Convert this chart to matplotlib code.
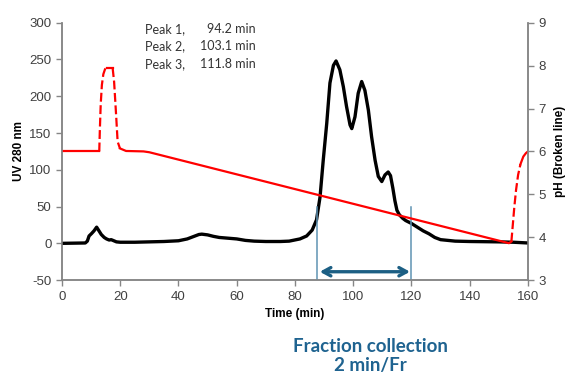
import matplotlib.pyplot as plt

plt.rcParams['font.family'] = ['Liberation Sans', 'DejaVu Sans']
plt.rcParams['axes.unicode_minus'] = False

# UV 280 nm trace (black)
uv_time = [0, 8, 8.7, 9.3, 10.2, 11, 11.9, 12.7, 13.5, 14.5, 15.3, 16.2, 16.9, 17.8, 18.7,
           20, 25, 30, 35, 40, 43, 45, 47, 48, 50, 52, 54, 57, 60, 63, 66, 70, 75, 78, 81.7,
           84, 85.9, 87.4, 88.6, 89.7, 90.9, 92, 93.2, 94.1, 95.4, 96.6, 97.7, 98.9, 99.5,
           100.6, 101.7, 102.9, 104, 105.2, 106.3, 107.5, 108.6, 109.8, 110.9, 112, 112.8,
           113.6, 114.3, 115, 115.8, 117, 118, 120, 122, 124, 126, 128, 130, 135, 140, 150,
           155, 160]
uv_value = [0, 0.5, 3, 10, 13.5, 17, 22, 17, 12, 8, 6, 4.5, 5, 3.5, 2,
            1.5, 1.5, 2, 2.5, 3.5, 6, 9, 12, 12.5, 11.5, 9.5, 8, 7, 6, 4, 3, 2.5, 2.5, 3, 6,
            10, 18, 32, 63, 113, 163, 218, 242, 248, 236, 213, 186, 161, 156,
            172, 204, 220, 208, 181, 145, 113, 91, 84, 93, 97, 92,
            75, 58, 45, 39, 34, 31, 27, 22, 17, 13, 8, 5, 3, 2.5, 2,
            1.5, 0.5]

# pH trace (red), steep parts drawn broken
ph_time = [0, 12.8, 13.0, 13.3, 13.7, 14.2, 14.8, 15.3, 17.4, 17.9, 18.6, 19.1, 19.9,
           22, 28, 30, 153.5, 154.3, 154.8, 155.3, 155.9, 156.6, 157.4, 158.4, 159.3, 160]
ph_value = [6.0, 6.0, 6.5, 7.1, 7.55, 7.8, 7.92, 7.94, 7.94, 7.62, 6.83, 6.23, 6.07,
            6.01, 6.0, 5.98, 3.86, 3.9, 4.3, 4.7, 5.1, 5.45, 5.7, 5.88, 5.96, 6.0]
ph_broken = [(12.8, 15.3), (17.4, 19.9), (154.3, 157.4)]

peak_names = ["Peak 1,", "Peak 2,", "Peak 3,"]
peak_times = ["94.2 min", "103.1 min", "111.8 min"]

fraction_start = 87.5
fraction_end = 120
fraction_mark_top = 50
arrow_level = -38.6

grey = '#868686'
tick_col = '#404040'

fig = plt.figure(figsize=(5.65, 3.72), dpi=100)
ax = fig.add_axes([0.1097, 0.247, 0.8248, 0.692])
ax2 = ax.twinx()

ax.plot(uv_time, uv_value, color='black', lw=2.4, solid_joinstyle='round', zorder=3)

# split pH trace into solid and broken runs
def is_broken(t0, t1):
    mid = (t0 + t1) / 2
    return any(a <= mid <= b for a, b in ph_broken)

runs = []
cur = [0]
cur_style = is_broken(ph_time[0], ph_time[1])
for i in range(1, len(ph_time)):
    st = is_broken(ph_time[i - 1], ph_time[i])
    if st != cur_style:
        runs.append((cur, cur_style))
        cur = [i - 1]
        cur_style = st
    cur.append(i)
runs.append((cur, cur_style))

for idx, broken in runs:
    xs = [ph_time[i] for i in idx]
    ys = [ph_value[i] for i in idx]
    if broken:
        ax2.plot(xs, ys, color='#ff0000', lw=1.6, dashes=(4, 1.6))
    else:
        ax2.plot(xs, ys, color='#ff0000', lw=1.6)

# fraction collection markers
for xv in (fraction_start, fraction_end):
    ax.plot([xv, xv], [-50, fraction_mark_top], color='#5f93b3', lw=1.1, zorder=4)
ax.annotate('', xy=(fraction_end - 0.5, arrow_level), xytext=(fraction_start + 1, arrow_level),
            arrowprops=dict(arrowstyle='<->,head_length=0.55,head_width=0.3',
                            lw=2.4, color='#1c5f84', shrinkA=0, shrinkB=0), zorder=5)

ax.set_xlim(0, 160)
ax.set_ylim(-50, 300)
ax2.set_ylim(3, 9)
ax.set_xticks(range(0, 161, 20))
ax.set_yticks(range(-50, 301, 50))
ax2.set_yticks(range(3, 10))

for a in (ax, ax2):
    a.spines['top'].set_visible(False)
    for s in ('left', 'right', 'bottom'):
        a.spines[s].set_color(grey)
        a.spines[s].set_linewidth(1.1)
    a.tick_params(colors=grey, labelcolor=tick_col, length=4, width=1.0, labelsize=9.5)

ax.set_xlabel('Time (min)', fontsize=8.5, fontweight='bold', labelpad=4)
ax.set_ylabel('UV 280 nm', fontsize=8.5, fontweight='bold', labelpad=3)
ax2.set_ylabel('pH (Broken line)', fontsize=8.5, fontweight='bold', labelpad=6)

for i, (nm, tm) in enumerate(zip(peak_names, peak_times)):
    y = 1 - (29 + 17.5 * i) / 372
    fig.text(145 / 565, y, nm, ha='left', va='center', fontsize=9, color='#333333', family='Lato')
    fig.text(256 / 565, y, tm, ha='right', va='center', fontsize=9, color='#333333', family='Lato')

fig.text(370 / 565, 1 - 346 / 372, 'Fraction collection', ha='center', va='center',
         fontsize=13.5, fontweight='bold', color='#1f6390', family='Lato')
fig.text(370 / 565, 1 - 365 / 372, '2 min/Fr', ha='center', va='center',
         fontsize=13.5, fontweight='bold', color='#1f6390', family='Lato')

fig.savefig('out.png', dpi=100)
